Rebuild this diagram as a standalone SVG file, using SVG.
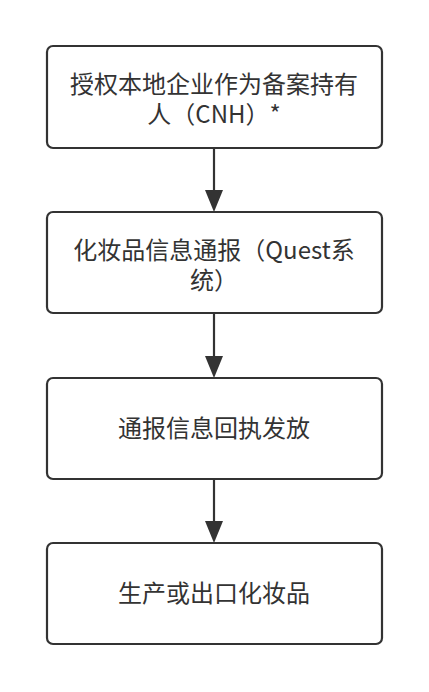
<svg xmlns="http://www.w3.org/2000/svg" width="429" height="692" viewBox="0 0 429 692">
<style>
.box{fill:#fff;stroke:#333;stroke-width:2.2}
.t{font-family:"Noto Sans CJK SC","Noto Sans",sans-serif;font-size:24px;fill:#333;text-anchor:middle}
.c{stroke:#333;stroke-width:2.2;fill:none}
.ah{fill:#333}
</style>
<rect width="429" height="692" fill="#fff"/>
<g id="connectors">
<line class="c" x1="214" y1="148" x2="214" y2="192"/>
<polygon class="ah" points="205,190 223,190 214,212"/>
<line class="c" x1="214" y1="313" x2="214" y2="358"/>
<polygon class="ah" points="205,356 223,356 214,378"/>
<line class="c" x1="214" y1="479" x2="214" y2="523"/>
<polygon class="ah" points="205,521 223,521 214,543"/>
</g>
<g id="n1">
<rect class="box" x="47" y="46" width="335" height="102" rx="6"/>
<text class="t" x="214" y="93">授权本地企业作为备案持有</text>
<text class="t" x="214" y="123">人（CNH）*</text>
</g>
<g id="n2">
<rect class="box" x="47" y="212" width="335" height="101" rx="6"/>
<text class="t" x="214" y="259">化妆品信息通报（Quest系</text>
<text class="t" x="214" y="289">统）</text>
</g>
<g id="n3">
<rect class="box" x="47" y="378" width="335" height="101" rx="6"/>
<text class="t" x="214" y="437">通报信息回执发放</text>
</g>
<g id="n4">
<rect class="box" x="47" y="543" width="335" height="101" rx="6"/>
<text class="t" x="214" y="602">生产或出口化妆品</text>
</g>
</svg>
